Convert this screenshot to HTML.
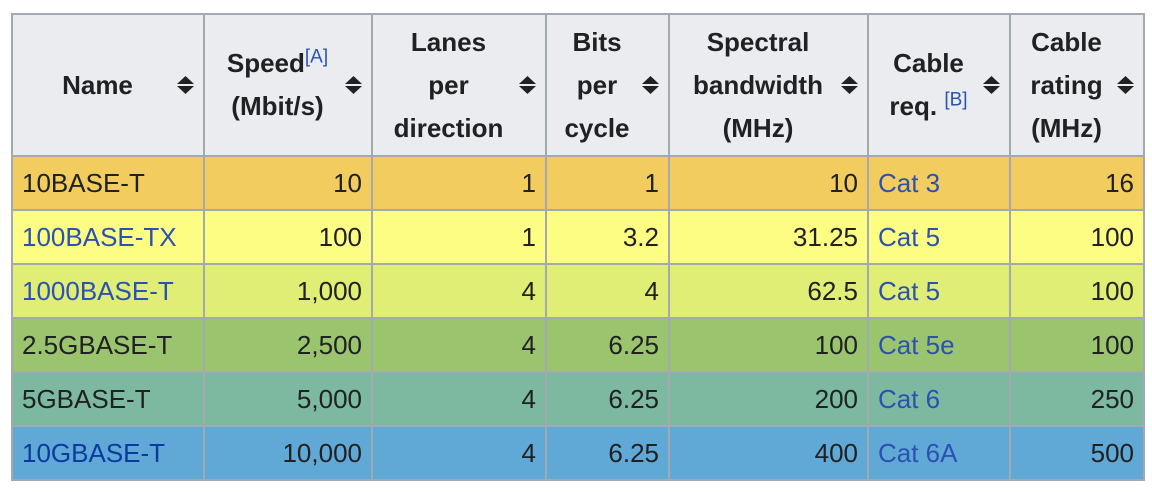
<!DOCTYPE html>
<html><head><meta charset="utf-8"><style>
body{margin:0;background:#fff;width:1152px;height:492px;overflow:hidden;font-family:"Liberation Sans",Arial,sans-serif;}
table{position:absolute;left:11px;top:13px;border-collapse:collapse;table-layout:fixed;font-size:26px;color:#202122;}
td,th{border:2px solid #a2a9b1;padding:0 9px;height:52px;white-space:nowrap;}
th{background:#eaecf0;height:140px;font-weight:bold;line-height:43px;text-align:center;position:relative;padding-right:30px;font-size:26px;}
th svg{position:absolute;right:9px;top:50%;margin-top:-9px;}
td.n{text-align:right;}
a{color:#2b52b3;text-decoration:none;}
sup{font-weight:normal;font-size:19px;line-height:0;}
a.v{color:#0b3a9e;}
</style></head><body>
<table>
<colgroup><col style="width:192px"><col style="width:168px"><col style="width:174px"><col style="width:123px"><col style="width:199px"><col style="width:142px"><col style="width:134px"></colgroup>
<tr>
<th>Name<svg width="17" height="18"><path d="M0 8L8.5 0L17 8ZM0 10L8.5 18L17 10Z" fill="#202122"/></svg></th>
<th>Speed<sup><a>[A]</a></sup><br>(Mbit/s)<svg width="17" height="18"><path d="M0 8L8.5 0L17 8ZM0 10L8.5 18L17 10Z" fill="#202122"/></svg></th>
<th>Lanes<br>per<br>direction<svg width="17" height="18"><path d="M0 8L8.5 0L17 8ZM0 10L8.5 18L17 10Z" fill="#202122"/></svg></th>
<th>Bits<br>per<br>cycle<svg width="17" height="18"><path d="M0 8L8.5 0L17 8ZM0 10L8.5 18L17 10Z" fill="#202122"/></svg></th>
<th>Spectral<br>bandwidth<br>(MHz)<svg width="17" height="18"><path d="M0 8L8.5 0L17 8ZM0 10L8.5 18L17 10Z" fill="#202122"/></svg></th>
<th>Cable<br>req. <sup><a>[B]</a></sup><svg width="17" height="18"><path d="M0 8L8.5 0L17 8ZM0 10L8.5 18L17 10Z" fill="#202122"/></svg></th>
<th>Cable<br>rating<br>(MHz)<svg width="17" height="18"><path d="M0 8L8.5 0L17 8ZM0 10L8.5 18L17 10Z" fill="#202122"/></svg></th>
</tr>
<tr style="background:#f2cc5e"><td>10BASE-T</td><td class="n">10</td><td class="n">1</td><td class="n">1</td><td class="n">10</td><td><a>Cat 3</a></td><td class="n">16</td></tr>
<tr style="background:#fdfd84"><td><a>100BASE-TX</a></td><td class="n">100</td><td class="n">1</td><td class="n">3.2</td><td class="n">31.25</td><td><a>Cat 5</a></td><td class="n">100</td></tr>
<tr style="background:#e1ee76"><td><a>1000BASE-T</a></td><td class="n">1,000</td><td class="n">4</td><td class="n">4</td><td class="n">62.5</td><td><a>Cat 5</a></td><td class="n">100</td></tr>
<tr style="background:#9bc46e"><td>2.5GBASE-T</td><td class="n">2,500</td><td class="n">4</td><td class="n">6.25</td><td class="n">100</td><td><a>Cat 5e</a></td><td class="n">100</td></tr>
<tr style="background:#7db8a0"><td>5GBASE-T</td><td class="n">5,000</td><td class="n">4</td><td class="n">6.25</td><td class="n">200</td><td><a>Cat 6</a></td><td class="n">250</td></tr>
<tr style="background:#60a9d6"><td><a class="v">10GBASE-T</a></td><td class="n">10,000</td><td class="n">4</td><td class="n">6.25</td><td class="n">400</td><td><a>Cat 6A</a></td><td class="n">500</td></tr>
</table>
</body></html>
